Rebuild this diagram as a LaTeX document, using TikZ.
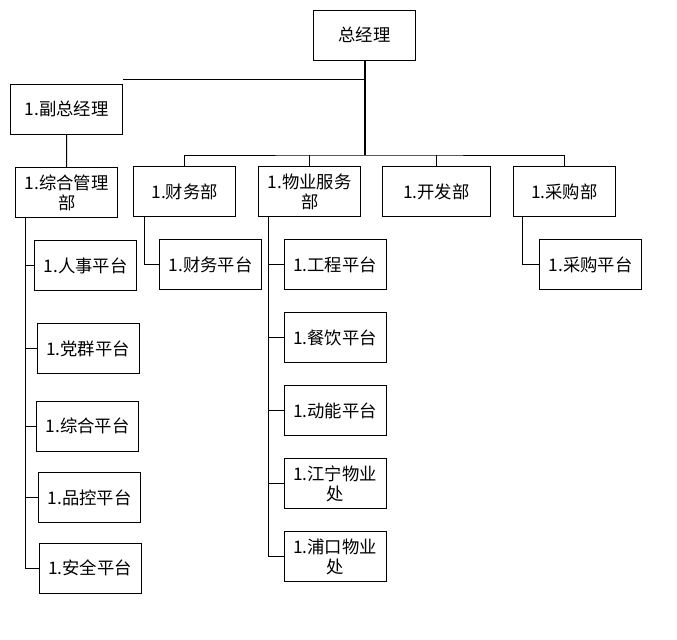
\documentclass[tikz,border=0pt]{standalone}
\usepackage{fontspec}
\setmainfont{Noto Sans CJK SC}
\usetikzlibrary{positioning}

\begin{document}
\begin{tikzpicture}[x=0.75pt,y=-0.75pt,line width=0.75pt,node distance=16.5pt,
    unit/.style={draw,minimum width=76.5pt,minimum height=37.5pt,inner sep=1pt,
        align=center,font=\fontsize{13}{15}\selectfont}]
    \useasboundingbox (0,0) rectangle (677,639);
    % Add the offices
        \node[unit] (gm) at (364.5,35) {总经理};
        \node[unit,minimum width=84pt] (vp) at (66.5,109) {1.副总经理};

        % Add the departments
        \node[unit] (adm) at (66.75,192.5) {1.综合管理\\部};
        \node[unit] (fin) at (184.75,191.5) {1.财务部};
        \node[unit,right = of fin] (prop) {1.物业服务\\部};
        \node[unit,right = 15.5pt of prop,minimum width=81pt] (dev) {1.开发部};
        \node[unit,right = of dev] (pur) {1.采购部};

        % Add the platforms
        \node[unit] (hr) at (85.75,265.5) {1.人事平台};
        \node[unit] (party) at (88,348.5) {1.党群平台};
        \node[unit] (gen) at (87.5,426) {1.综合平台};
        \node[unit] (qc) at (89.5,497.5) {1.品控平台};
        \node[unit] (safe) at (90,568) {1.安全平台};
        \node[unit] (finp) at (210.5,264.5) {1.财务平台};
        \node[unit] (eng) at (335,264.5) {1.工程平台};
        \node[unit,below = of eng] (cater) {1.餐饮平台};
        \node[unit,below = of cater] (power) {1.动能平台};
        \node[unit,below = of power] (jn) {1.江宁物业\\处};
        \node[unit,below = of jn] (pk) {1.浦口物业\\处};
        \node[unit] (purp) at (590.5,264.5) {1.采购平台};

        % Connect the offices
        \coordinate (bus) at (364.5,155);
        \coordinate (tie) at (123,79);
        \draw[line width=1.5pt] (gm) -- (bus);
        \draw (tie) -- (tie -| gm);
        \draw (vp) -- (adm);
        \draw (fin.north) |- (bus) -| (pur.north);
        \foreach \d in {prop,dev}
            \draw (\d.north) -- (\d.north |- bus);

        % Connect the platforms
        \coordinate (admspine) at ([xshift=7.9pt]adm.south west);
        \coordinate (finspine) at ([xshift=8.7pt]fin.south west);
        \coordinate (propspine) at ([xshift=7.5pt]prop.south west);
        \coordinate (purspine) at ([xshift=7.5pt]pur.south west);
        \foreach \p in {hr,party,gen,qc,safe}
            \draw (admspine) |- (\p.west);
        \foreach \p in {eng,cater,power,jn,pk}
            \draw (propspine) |- (\p.west);
        \draw (finspine) |- (finp.west);
        \draw (purspine) |- (purp.west);
    \end{tikzpicture}
\end{document}
